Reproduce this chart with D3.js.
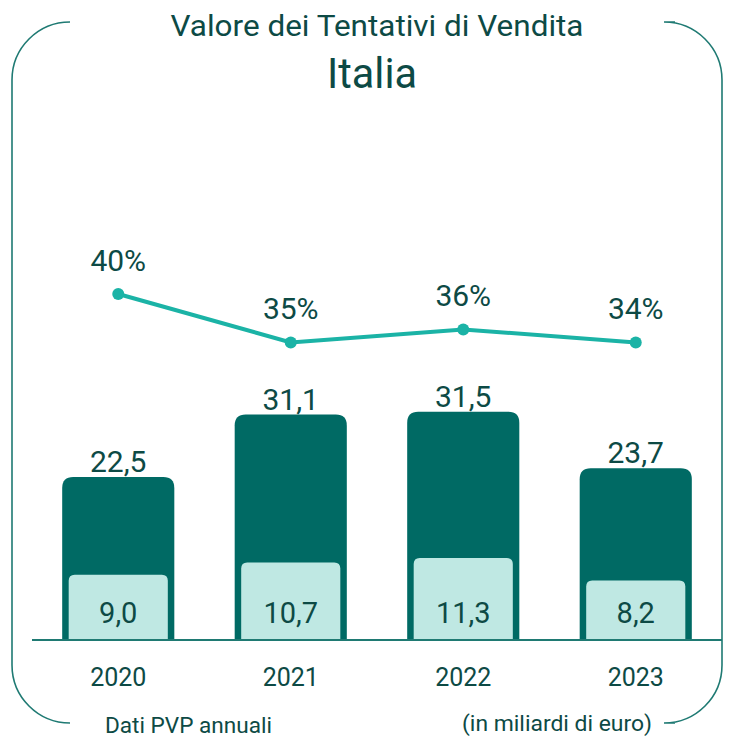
<!DOCTYPE html>
<html>
<head>
<meta charset="utf-8">
<script src="https://cdn.jsdelivr.net/npm/d3@7"></script>
<style>
  body { margin: 0; background: #fff; }
  text { font-family: Roboto, "Noto Sans", sans-serif; fill: #0d4a45; }
</style>
</head>
<body>
<div id="chart"></div>
<script>
// data
var years = ["2020", "2021", "2022", "2023"];
var totalValues = [22.5, 31.1, 31.5, 23.7];
var soldValues = [9.0, 10.7, 11.3, 8.2];
var pctValues = [40.0, 34.4, 35.9, 34.4];
var totalLabels = ["22,5", "31,1", "31,5", "23,7"];
var soldLabels = ["9,0", "10,7", "11,3", "8,2"];
var pctLabels = ["40%", "35%", "36%", "34%"];

var svgWidth = 735;
var svgHeight = 739;
var baseY = 640;

var svg = d3.select("#chart")
  .append("svg")
  .attr("width", svgWidth)
  .attr("height", svgHeight);

// scales
var x = d3.scaleBand()
  .domain(years)
  .range([32, 722])
  .paddingInner(0.35)
  .paddingOuter(0.175);

var y = d3.scaleLinear()
  .domain([0, 40])
  .range([baseY, baseY - 40 * 7.25]);

var yPct = d3.scaleLinear()
  .domain([0, 100])
  .range([baseY, baseY - 865]);

var rows = years.map(function(yr, i) {
  return { year: yr, total: totalValues[i], sold: soldValues[i], pct: pctValues[i],
    totalLabel: totalLabels[i], soldLabel: soldLabels[i], pctLabel: pctLabels[i] };
});

// frame around the chart
var frame = svg.append("g")
  .attr("fill", "none")
  .attr("stroke", "#1f7a73")
  .attr("stroke-width", 1.6);
var L = 12, R = 722, T = 22, B = 723, rr = 58;
frame.append("path")
  .attr("d", `M70,${T} L${L + rr},${T} A${rr},${rr} 0 0 0 ${L},${T + rr} L${L},${B - rr} A${rr},${rr} 0 0 0 ${L + rr},${B} L70,${B}`);
frame.append("path")
  .attr("d", `M675,${T} L${R - rr},${T} A${rr},${rr} 0 0 1 ${R},${T + rr} L${R},${B - rr} A${rr},${rr} 0 0 1 ${R - rr},${B} L675,${B}`);

// rounded-top bar helper
function topRounded(x0, w, yTop, yBot, r) {
  return `M${x0},${yBot} L${x0},${yTop + r} Q${x0},${yTop} ${x0 + r},${yTop} L${x0 + w - r},${yTop} Q${x0 + w},${yTop} ${x0 + w},${yTop + r} L${x0 + w},${yBot} Z`;
}

// dark bars (total)
svg.append("g").selectAll("path")
  .data(rows)
  .enter()
  .append("path")
  .attr("d", d => topRounded(x(d.year), x.bandwidth(), y(d.total), baseY, 11))
  .attr("fill", "#006a64");

// light bars (sold)
var inset = 6.5;
svg.append("g").selectAll("path")
  .data(rows)
  .enter()
  .append("path")
  .attr("d", d => topRounded(x(d.year) + inset, x.bandwidth() - 2 * inset, y(d.sold), baseY, 6))
  .attr("fill", "#bfe8e3");

// baseline
svg.append("line")
  .attr("x1", 32).attr("x2", 722)
  .attr("y1", baseY).attr("y2", baseY)
  .attr("stroke", "#1f7a73")
  .attr("stroke-width", 2);

// value labels
svg.append("g").selectAll("text")
  .data(rows)
  .enter()
  .append("text")
  .attr("x", d => x(d.year) + x.bandwidth() / 2)
  .attr("y", d => y(d.total) - 5)
  .attr("text-anchor", "middle")
  .attr("font-size", 30)
  .text(d => d.totalLabel);

svg.append("g").selectAll("text")
  .data(rows)
  .enter()
  .append("text")
  .attr("x", d => x(d.year) + x.bandwidth() / 2)
  .attr("y", 623)
  .attr("text-anchor", "middle")
  .attr("font-size", 29)
  .text(d => d.soldLabel);

// year labels
svg.append("g").selectAll("text")
  .data(rows)
  .enter()
  .append("text")
  .attr("x", d => x(d.year) + x.bandwidth() / 2)
  .attr("y", 686)
  .attr("text-anchor", "middle")
  .attr("font-size", 25)
  .text(d => d.year);

// percentage line
var line = d3.line()
  .x(d => x(d.year) + x.bandwidth() / 2)
  .y(d => yPct(d.pct));

svg.append("path")
  .datum(rows)
  .attr("d", line)
  .attr("fill", "none")
  .attr("stroke", "#1bb3a6")
  .attr("stroke-width", 4);

svg.append("g").selectAll("circle")
  .data(rows)
  .enter()
  .append("circle")
  .attr("cx", d => x(d.year) + x.bandwidth() / 2)
  .attr("cy", d => yPct(d.pct))
  .attr("r", 6)
  .attr("fill", "#1bb3a6");

svg.append("g").selectAll("text")
  .data(rows)
  .enter()
  .append("text")
  .attr("x", d => x(d.year) + x.bandwidth() / 2)
  .attr("y", d => yPct(d.pct) - 23)
  .attr("text-anchor", "middle")
  .attr("font-size", 30)
  .text(d => d.pctLabel);

// titles
svg.append("text")
  .attr("x", 377).attr("y", 36)
  .attr("text-anchor", "middle")
  .attr("font-size", 30)
  .attr("textLength", 413)
  .attr("lengthAdjust", "spacingAndGlyphs")
  .text("Valore dei Tentativi di Vendita");

svg.append("text")
  .attr("x", 372).attr("y", 88)
  .attr("text-anchor", "middle")
  .attr("font-size", 42)
  .attr("textLength", 90)
  .attr("lengthAdjust", "spacingAndGlyphs")
  .text("Italia");

// footer notes
svg.append("text")
  .attr("x", 105).attr("y", 733)
  .attr("font-size", 22)
  .attr("textLength", 167)
  .attr("lengthAdjust", "spacingAndGlyphs")
  .text("Dati PVP annuali");

svg.append("text")
  .attr("x", 462).attr("y", 731)
  .attr("font-size", 22)
  .attr("textLength", 190)
  .attr("lengthAdjust", "spacingAndGlyphs")
  .text("(in miliardi di euro)");
</script>
</body>
</html>
